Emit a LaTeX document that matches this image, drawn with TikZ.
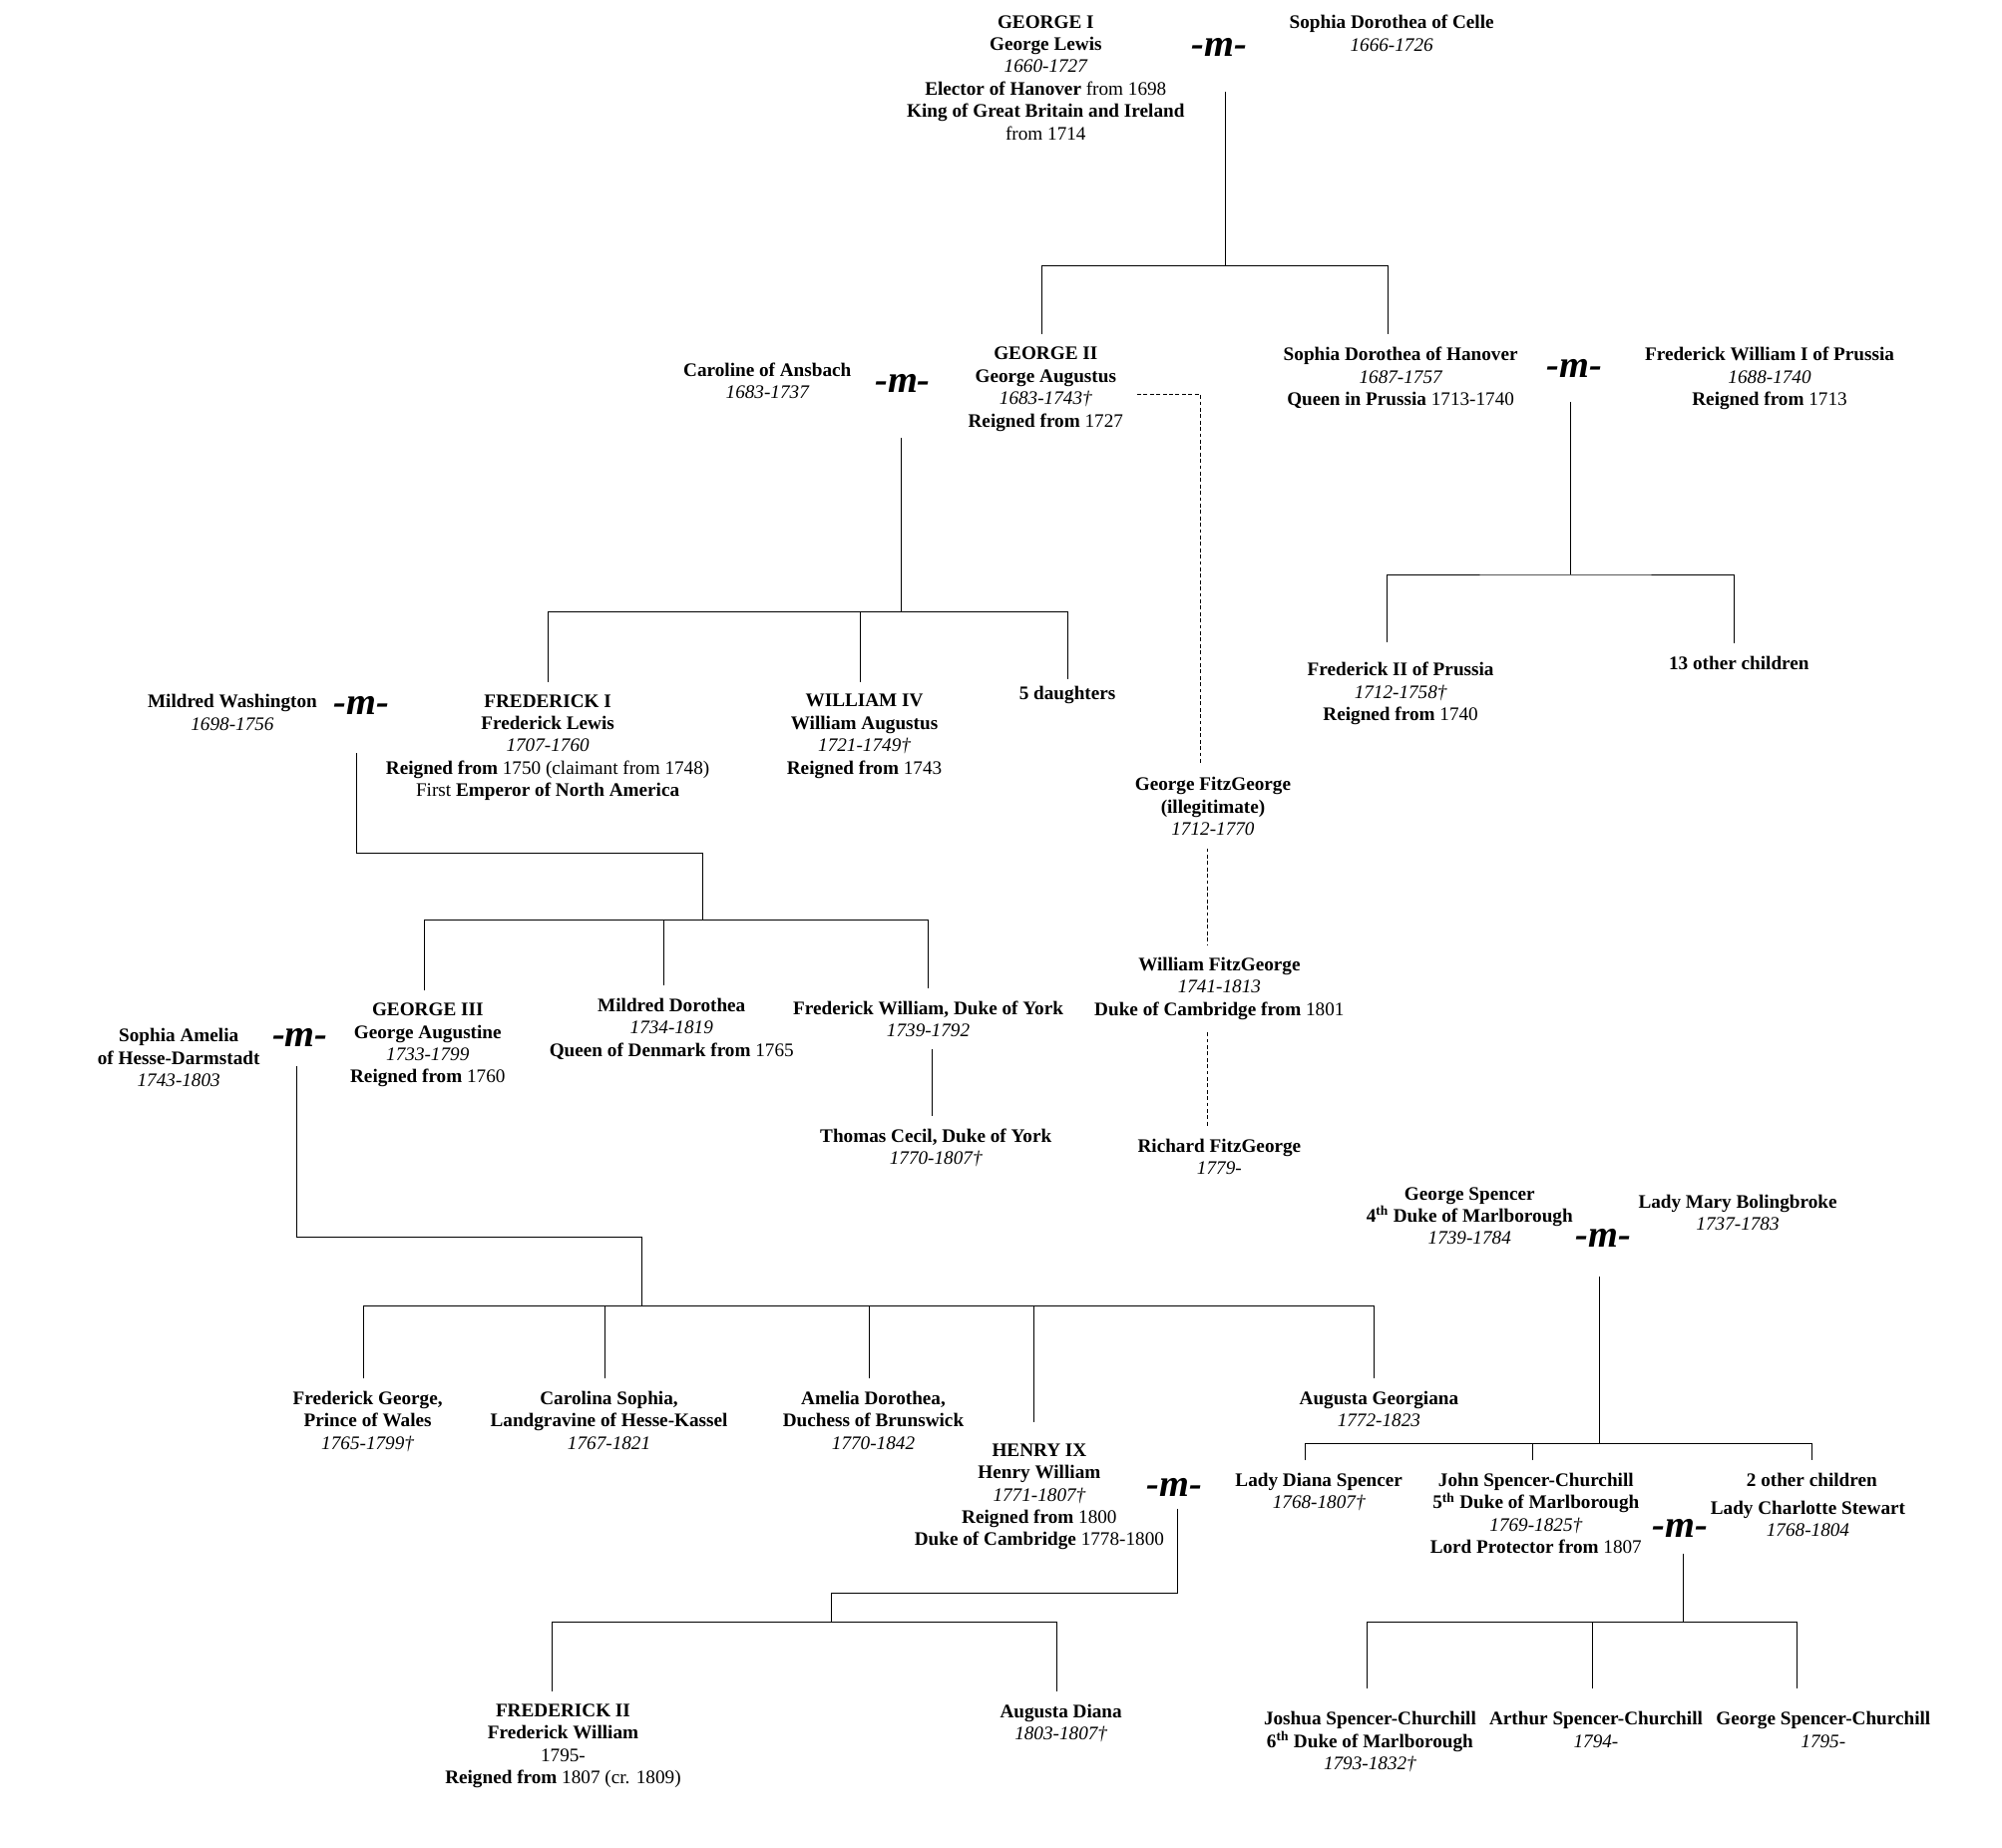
\documentclass[tikz,border=0pt]{standalone}
\usepackage{fontspec}
\setmainfont{Liberation Serif}
\usetikzlibrary{calc}
\newcommand{\lifespan}[1]{{\mdseries\itshape #1}}
\newcommand{\plain}[1]{{\mdseries #1}}

\begin{document}
\begin{tikzpicture}[x=1pt, y=-1pt,
  person/.style={align=center, anchor=north, inner sep=0pt, outer xsep=0pt, outer ysep=10pt,
    font=\fontsize{15}{17.5}\selectfont\bfseries},
  wed/.style={inner sep=0pt, font=\fontsize{30}{30}\selectfont\bfseries\itshape},
  tie/.style={line width=0.6pt},
  illeg/.style={line width=0.6pt, dash pattern=on 3pt off 2pt}]
  \useasboundingbox (0,0) rectangle (1568,1447);

  % first generation
  \node[person] (geo1) at (819,2) {GEORGE I\\George Lewis\\\lifespan{1660-1727}\\Elector of Hanover \plain{from 1698}\\King of Great Britain and Ireland\\\plain{from 1714}};
  \node[wed] (m1) at (955,37) {-m-};
  \node[person] (celle) at (1090,2) {Sophia Dorothea of Celle\\\lifespan{1666-1726}};

  % second generation
  \node[person] (caro) at (601,274) {Caroline of Ansbach\\\lifespan{1683-1737}};
  \node[wed] (m2) at (707,300) {-m-};
  \node[person] (geo2) at (819,262) {GEORGE II\\George Augustus\\\lifespan{1683-1743†}\\Reigned from \plain{1727}};
  \node[person] (sdh) at (1097,262) {Sophia Dorothea of Hanover\\\lifespan{1687-1757}\\Queen in Prussia \plain{1713-1740}};
  \node[wed] (mp) at (1233,289) {-m-};
  \node[person] (fw1) at (1386,262) {Frederick William I of Prussia\\\lifespan{1688-1740}\\Reigned from \plain{1713}};

  % third generation
  \node[person] (mw) at (182,534) {Mildred Washington\\\lifespan{1698-1756}};
  \node[wed] (m3) at (283,553) {-m-};
  \node[person] (fred1) at (429,534) {FREDERICK I\\Frederick Lewis\\\lifespan{1707-1760}\\Reigned from \plain{1750 (claimant from 1748)}\\\plain{First} Emperor of North America};
  \node[person] (will4) at (677,534) {WILLIAM IV\\William Augustus\\\lifespan{1721-1749†}\\Reigned from \plain{1743}};
  \node[person] (dau5) at (836,528) {5 daughters};
  \node[person] (fr2p) at (1097,509) {Frederick II of Prussia\\\lifespan{1712-1758†}\\Reigned from \plain{1740}};
  \node[person] (oth13) at (1362,504) {13 other children};
  \node[person] (gfg) at (950,599) {George FitzGeorge\\(illegitimate)\\\lifespan{1712-1770}};
  \node[person] (wfg) at (955,740) {William FitzGeorge\\\lifespan{1741-1813}\\Duke of Cambridge from \plain{1801}};
  \node[person] (rfg) at (955,882) {Richard FitzGeorge\\\lifespan{1779-}};

  % fourth generation
  \node[person] (sa) at (140,796) {Sophia Amelia\\of Hesse-Darmstadt\\\lifespan{1743-1803}};
  \node[wed] (m4) at (235,813) {-m-};
  \node[person] (geo3) at (335,776) {GEORGE III\\George Augustine\\\lifespan{1733-1799}\\Reigned from \plain{1760}};
  \node[person] (mdor) at (526,772) {Mildred Dorothea\\\lifespan{1734-1819}\\Queen of Denmark from \plain{1765}};
  \node[person] (fwy) at (727,774) {Frederick William, Duke of York\\\lifespan{1739-1792}};
  \node[person] (tc) at (733,874) {Thomas Cecil, Duke of York\\\lifespan{1770-1807†}};

  % Spencer line
  \node[person] (gs) at (1151,920) {George Spencer\\4\textsuperscript{th} Duke of Marlborough\\\lifespan{1739-1784}};
  \node[wed] (m6) at (1256,970) {-m-};
  \node[person] (lmb) at (1361,926) {Lady Mary Bolingbroke\\\lifespan{1737-1783}};

  % fifth generation
  \node[person] (fgw) at (288,1080) {Frederick George,\\Prince of Wales\\\lifespan{1765-1799†}};
  \node[person] (cs) at (477,1080) {Carolina Sophia,\\Landgravine of Hesse-Kassel\\\lifespan{1767-1821}};
  \node[person] (ad) at (684,1080) {Amelia Dorothea,\\Duchess of Brunswick\\\lifespan{1770-1842}};
  \node[person] (ag) at (1080,1080) {Augusta Georgiana\\\lifespan{1772-1823}};
  \node[person] (h9) at (814,1121) {HENRY IX\\Henry William\\\lifespan{1771-1807†}\\Reigned from \plain{1800}\\Duke of Cambridge \plain{1778-1800}};
  \node[wed] (m5) at (920,1165) {-m-};
  \node[person] (lds) at (1033,1144) {Lady Diana Spencer\\\lifespan{1768-1807†}};
  \node[person] (jsc) at (1203,1144) {John Spencer-Churchill\\5\textsuperscript{th} Duke of Marlborough\\\lifespan{1769-1825†}\\Lord Protector from \plain{1807}};
  \node[wed] (m7) at (1316,1197) {-m-};
  \node[person] (oth2) at (1419,1144) {2 other children};
  \node[person] (lcs) at (1416,1166) {Lady Charlotte Stewart\\\lifespan{1768-1804}};

  % sixth generation
  \node[person] (fr2) at (441,1325) {FREDERICK II\\Frederick William\\\plain{1795-}\\Reigned from \plain{1807 (cr. 1809)}};
  \node[person] (aud) at (831,1325) {Augusta Diana\\\lifespan{1803-1807†}};
  \node[person] (jos) at (1073,1331) {Joshua Spencer-Churchill\\6\textsuperscript{th} Duke of Marlborough\\\lifespan{1793-1832†}};
  \node[person] (art) at (1250,1331) {Arthur Spencer-Churchill\\\lifespan{1794-}};
  \node[person] (gsc) at (1428,1331) {George Spencer-Churchill\\\lifespan{1795-}};

  % George I and Sophia Dorothea
  \coordinate (f1) at (960,72);
  \draw[tie] (f1) -- ++(0,136) coordinate (b1);
  \draw[tie] ([xshift=-3pt]geo2.north) |- (b1) -| ([xshift=-10pt]sdh.north);

  % George II and Caroline
  \coordinate (f2) at (706,343);
  \draw[tie] (f2) -- ++(0,136) coordinate (b2);
  \draw[tie] (fred1.north) |- (b2) -| ([yshift=-4pt]dau5.north);
  \draw[tie] ([xshift=-3pt]will4.north) |- (b2);

  % Sophia Dorothea and Frederick William
  \coordinate (fp) at (1230,315);
  \draw[tie] (fp) -- ++(0,135) coordinate (bp);
  \draw[tie] ([xshift=-11pt,yshift=6pt]fr2p.north) |- (bp) -| ([xshift=-4pt]oth13.north);

  % illegitimate line
  \draw[illeg] ([xshift=11pt,yshift=-4pt]geo2.east) -| ([xshift=-10pt]gfg.north);
  \draw[illeg] ([xshift=-4pt]gfg.south) -- ([xshift=-9pt]wfg.north);
  \draw[illeg] ([xshift=-9pt]wfg.south) -- ([xshift=-9pt]rfg.north);

  % Frederick I and Mildred
  \coordinate (f3) at (279,590);
  \coordinate (b3) at (550,721);
  \draw[tie] (f3) -- ++(0,78) -| (b3);
  \draw[tie] ([xshift=-3pt]geo3.north) |- (b3) -| (fwy.north);
  \draw[tie] ([xshift=-6pt]mdor.north) |- (b3);
  \draw[tie] ([xshift=3pt]fwy.south) -- ([xshift=-3pt]tc.north);

  % George III and Sophia Amelia
  \coordinate (f4) at (232,835);
  \coordinate (b4) at (503,1023);
  \draw[tie] (f4) -- ++(0,134) -| (b4);
  \draw[tie] ([xshift=-3pt]fgw.north) |- (b4) -| ([xshift=-4pt]ag.north);
  \draw[tie] ([xshift=-3pt]cs.north) |- (b4);
  \draw[tie] ([xshift=-3pt]ad.north) |- (b4);
  \draw[tie] ([xshift=-4pt,yshift=7pt]h9.north) |- (b4);

  % Henry IX
  \coordinate (f5) at (922,1182);
  \coordinate (b5) at (651,1271);
  \draw[tie] (f5) -- ++(0,66) -| (b5);
  \draw[tie] ([xshift=-9pt]fr2.north) |- (b5) -| ([xshift=-3pt]aud.north);

  % George Spencer and Lady Mary
  \coordinate (fs) at (1253,1000);
  \draw[tie] (fs) -- ++(0,131) coordinate (bs);
  \draw[tie] ([xshift=-11pt]lds.north) |- (bs) -| (oth2.north);
  \draw[tie] ([xshift=-3pt]jsc.north) |- (bs);

  % John Spencer-Churchill and Lady Charlotte
  \coordinate (f6) at (1318,1217);
  \draw[tie] (f6) -- ++(0,54) coordinate (b6);
  \draw[tie] ([xshift=-2pt,yshift=8pt]jos.north) |- (b6) -| ([xshift=-21pt,yshift=8pt]gsc.north);
  \draw[tie] ([xshift=-3pt,yshift=8pt]art.north) |- (b6);
\end{tikzpicture}
\end{document}
